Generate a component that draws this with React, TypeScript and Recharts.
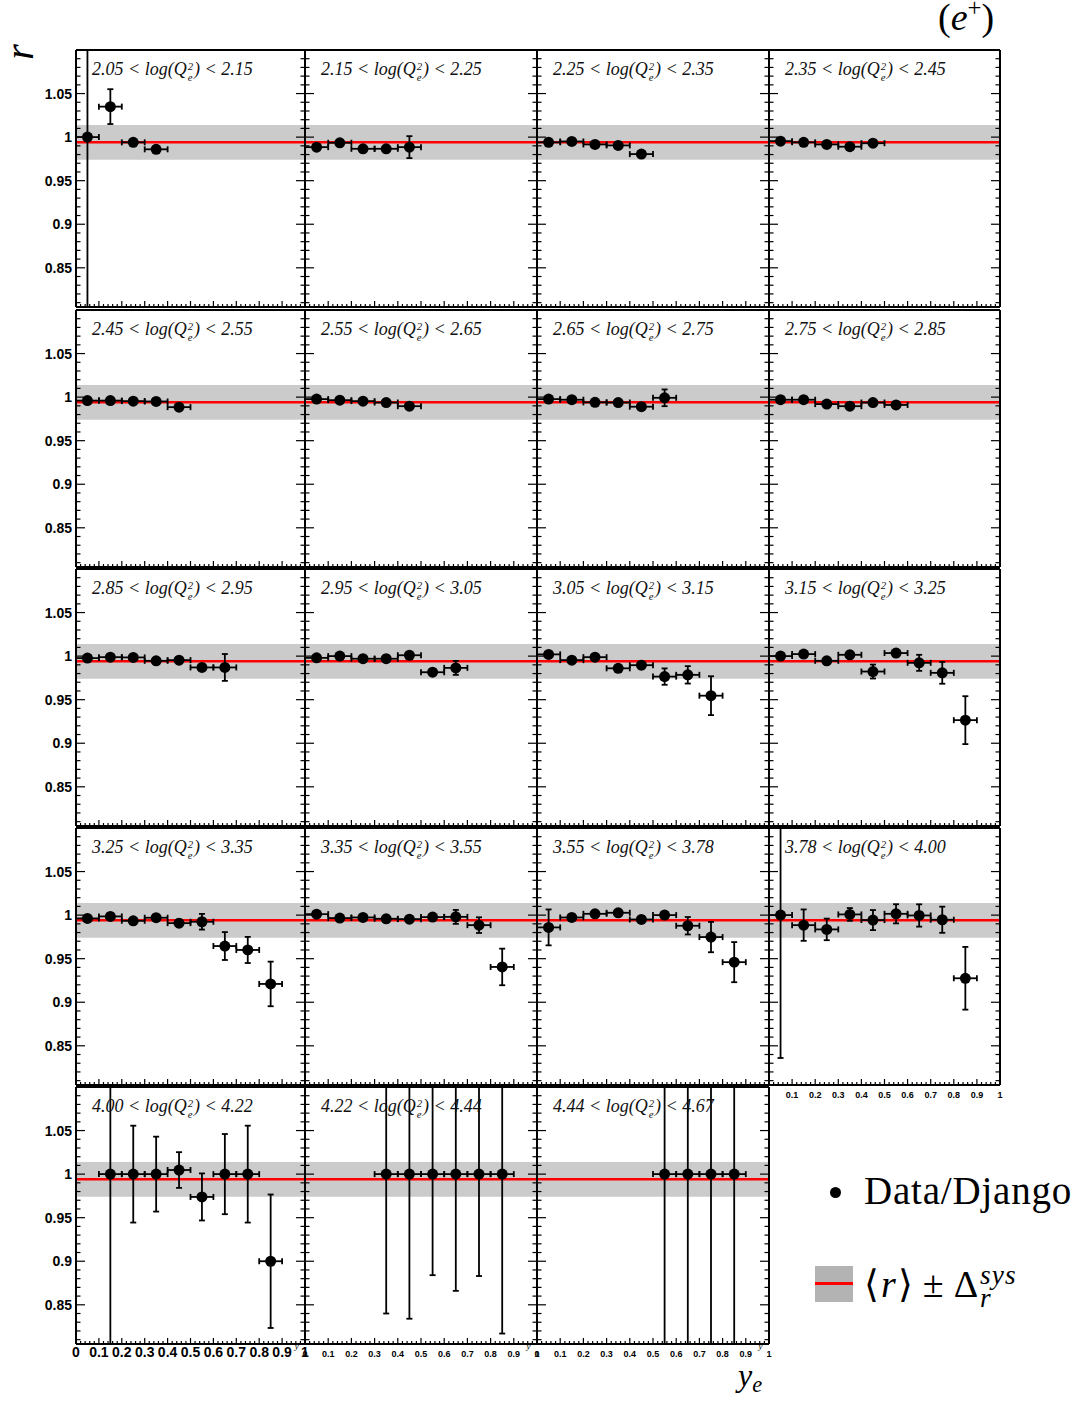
import React from "react";
import {
  ComposedChart,
  ErrorBar,
  ReferenceArea,
  ReferenceLine,
  Scatter,
  XAxis,
  YAxis,
} from "recharts";

// bin centres in y_e and the half width of a bin
const yeBins = [0.05, 0.15, 0.25, 0.35, 0.45, 0.55, 0.65, 0.75, 0.85, 0.95];
const yeHalfWidth = 0.05;

// log(Q_e^2) bin edges, one panel per bin
const q2Edges = [
  "2.05", "2.15", "2.25", "2.35", "2.45", "2.55", "2.65", "2.75", "2.85", "2.95",
  "3.05", "3.15", "3.25", "3.35", "3.55", "3.78", "4.00", "4.22", "4.44", "4.67",
];

// index of the first filled y_e bin in every panel
const firstBin = [0, 0, 0, 0, 0, 0, 0, 0, 0, 0, 0, 0, 0, 0, 0, 0, 1, 3, 5];

// ratio data / django and its error, per log(Q^2) bin
const r205 = [1.0, 1.035, 0.994, 0.986];
const e205 = [0.3, 0.02, 0.003, 0.003];
const r215 = [0.9885, 0.9935, 0.9866, 0.9866, 0.9885];
const e215 = [0.003, 0.003, 0.003, 0.003, 0.0126];
const r225 = [0.994, 0.995, 0.9916, 0.9905, 0.9805];
const e225 = [0.003, 0.003, 0.003, 0.003, 0.003];
const r235 = [0.9954, 0.994, 0.9916, 0.989, 0.993];
const e235 = [0.003, 0.003, 0.003, 0.003, 0.003];
const r245 = [0.996, 0.996, 0.9954, 0.995, 0.9885];
const e245 = [0.003, 0.003, 0.003, 0.003, 0.003];
const r255 = [0.9977, 0.9965, 0.9954, 0.9938, 0.9896];
const e255 = [0.003, 0.003, 0.003, 0.003, 0.003];
const r265 = [0.9977, 0.997, 0.994, 0.9938, 0.989, 0.9992];
const e265 = [0.003, 0.003, 0.003, 0.003, 0.003, 0.0096];
const r275 = [0.997, 0.997, 0.992, 0.9896, 0.9938, 0.991];
const e275 = [0.003, 0.003, 0.003, 0.003, 0.003, 0.003];
const r285 = [0.9977, 0.9988, 0.9985, 0.9946, 0.9954, 0.987, 0.987];
const e285 = [0.003, 0.003, 0.003, 0.003, 0.003, 0.003, 0.0154];
const r295 = [0.998, 1.0, 0.997, 0.997, 1.001, 0.9815, 0.9865];
const e295 = [0.003, 0.003, 0.003, 0.003, 0.003, 0.003, 0.008];
const r305 = [1.002, 0.9954, 0.9988, 0.986, 0.9896, 0.9765, 0.9785, 0.9546];
const e305 = [0.003, 0.003, 0.003, 0.003, 0.004, 0.0094, 0.01, 0.0223];
const r315 = [1.0, 1.0023, 0.9946, 1.0015, 0.9823, 1.0035, 0.9923, 0.9808, 0.9265];
const e315 = [0.003, 0.003, 0.003, 0.004, 0.008, 0.004, 0.0092, 0.0125, 0.0275];
const r325 = [0.9962, 0.9985, 0.9935, 0.997, 0.9908, 0.9924, 0.9645, 0.96, 0.921];
const e325 = [0.003, 0.003, 0.003, 0.003, 0.004, 0.009, 0.016, 0.015, 0.0256];
const r335 = [1.0011, 0.9966, 0.9973, 0.9958, 0.9954, 0.9977, 0.998, 0.9885, 0.9405];
const e335 = [0.003, 0.003, 0.003, 0.003, 0.003, 0.004, 0.008, 0.009, 0.021];
const r355 = [0.9859, 0.9973, 1.0015, 1.0027, 0.995, 1.0, 0.9878, 0.9748, 0.946];
const e355 = [0.0206, 0.004, 0.003, 0.003, 0.004, 0.004, 0.01, 0.0174, 0.023];
const r378 = [1.0, 0.9885, 0.9836, 1.0008, 0.9943, 1.0015, 0.9996, 0.9947, 0.9275];
const e378 = [0.164, 0.018, 0.0124, 0.0073, 0.0115, 0.011, 0.0128, 0.015, 0.036];
const r400 = [1.0, 1.0, 1.0, 1.0047, 0.9738, 1.0, 1.0, 0.9];
const e400 = [0.3, 0.0556, 0.043, 0.0205, 0.027, 0.046, 0.0556, 0.0766];
const r422 = [1.0, 1.0, 1.0, 1.0, 1.0, 1.0];
const e422 = [0.16, 0.166, 0.116, 0.134, 0.117, 0.183];
const r444 = [1.0, 1.0, 1.0, 1.0];
const e444 = [0.3, 0.3, 0.3, 0.3];

const ratios = [r205, r215, r225, r235, r245, r255, r265, r275, r285, r295, r305, r315, r325, r335, r355, r378, r400, r422, r444];
const errors = [e205, e215, e225, e235, e245, e255, e265, e275, e285, e295, e305, e315, e325, e335, e355, e378, e400, e422, e444];

// mean ratio and its systematic band
const meanRatio = 0.994;
const sysBand = 0.02;

const xMajorTicks = [0, 0.1, 0.2, 0.3, 0.4, 0.5, 0.6, 0.7, 0.8, 0.9, 1];
const xTickLabels = ["0", "0.1", "0.2", "0.3", "0.4", "0.5", "0.6", "0.7", "0.8", "0.9", "1"];
const yMajorTicks = [0.85, 0.9, 0.95, 1, 1.05];
const yTickLabels = ["0.85", "0.9", "0.95", "1", "1.05"];

const xAllTicks = Array.from({ length: 51 }, (_, i) => i * 0.02);
const yAllTicks = Array.from({ length: 30 }, (_, i) => 0.81 + i * 0.01);

const COL_LEFT = [76, 305, 537, 769];
const COL_WIDTH = [229, 232, 232, 231];
const ROW_TOP = [50, 310, 569, 828, 1087];
const PANEL_H = 257;
const Y_DOMAIN: [number, number] = [0.805, 1.1];

const SANS = '"Liberation Sans", Arial, sans-serif';
const SERIF = '"Liberation Serif", "Times New Roman", serif';

// error bars are cut at the frame, as in the original plot
const panels = q2Edges.slice(0, -1).map((lo, i) => ({
  lo,
  hi: q2Edges[i + 1],
  points: ratios[i].map((r, k) => {
    const dr = errors[i][k];
    return {
      ye: yeBins[firstBin[i] + k],
      r,
      drClip: [Math.min(dr, r - Y_DOMAIN[0]), Math.min(dr, Y_DOMAIN[1] - r)],
      dye: yeHalfWidth,
    };
  }),
}));

function majorIndex(v: number, majors: number[]) {
  return majors.findIndex((m) => Math.abs(m - v) < 1e-6);
}

function xTick(side: "bottom" | "top", labelSize: number, skipZero = false) {
  return (p: any) => {
    const idx = majorIndex(p.payload.value, xMajorTicks);
    const len = idx >= 0 ? 6 : 3;
    const dir = side === "bottom" ? -1 : 1;
    return (
      <g>
        <line x1={p.x} x2={p.x} y1={p.y} y2={p.y + dir * len} stroke="#000" strokeWidth={1.2} />
        {side === "bottom" && labelSize > 0 && idx >= 0 && !(skipZero && idx === 0) && (
          <text
            x={p.x}
            y={p.y + 13}
            textAnchor="middle"
            fontFamily={SANS}
            fontWeight="bold"
            fontSize={labelSize}
            fill="#000"
          >
            {xTickLabels[idx]}
          </text>
        )}
      </g>
    );
  };
}

function yTick(side: "left" | "right", showLabels: boolean) {
  return (p: any) => {
    const idx = majorIndex(p.payload.value, yMajorTicks);
    const len = idx >= 0 ? 9 : 4.5;
    const dir = side === "left" ? 1 : -1;
    return (
      <g>
        <line x1={p.x} x2={p.x + dir * len} y1={p.y} y2={p.y} stroke="#000" strokeWidth={1.2} />
        {showLabels && idx >= 0 && (
          <text
            x={p.x - 4}
            y={p.y + 5}
            textAnchor="end"
            fontFamily={SANS}
            fontWeight="bold"
            fontSize={14}
            fill="#000"
          >
            {yTickLabels[idx]}
          </text>
        )}
      </g>
    );
  };
}

function Panel({ index }: { index: number }) {
  const row = Math.floor(index / 4);
  const col = index % 4;
  const panel = panels[index];
  const hasXLabels = row === 4 || index === 15;
  const leftW = col === 0 ? 60 : 1;
  const bottomH = hasXLabels ? 22 : 1;
  const topH = 1;
  const rightW = 1;
  const m = { top: 3, right: 6, bottom: 4, left: 3 };
  const width = m.left + leftW + COL_WIDTH[col] + rightW + m.right;
  const height = m.top + topH + PANEL_H + bottomH + m.bottom;
  const labelSize = hasXLabels ? (col === 0 ? 14 : 9) : 0;
  const axisLine = { stroke: "#000", strokeWidth: 2 };

  return (
    <div
      style={{
        position: "absolute",
        left: COL_LEFT[col] - leftW - m.left,
        top: ROW_TOP[row] - topH - m.top,
      }}
    >
      <ComposedChart width={width} height={height} margin={m}>
        <XAxis
          xAxisId="b"
          dataKey="ye"
          type="number"
          domain={[0, 1]}
          allowDataOverflow
          ticks={xAllTicks}
          interval={0}
          height={bottomH}
          tickSize={0}
          tickMargin={0}
          tickLine={false}
          axisLine={axisLine}
          tick={xTick("bottom", labelSize, index === 15)}
        />
        <XAxis
          xAxisId="t"
          orientation="top"
          type="number"
          domain={[0, 1]}
          allowDataOverflow
          ticks={xAllTicks}
          interval={0}
          height={topH}
          tickSize={0}
          tickMargin={0}
          tickLine={false}
          axisLine={axisLine}
          tick={xTick("top", 0)}
        />
        <YAxis
          yAxisId="l"
          dataKey="r"
          type="number"
          domain={Y_DOMAIN}
          allowDataOverflow
          ticks={yAllTicks}
          interval={0}
          width={leftW}
          tickSize={0}
          tickMargin={0}
          tickLine={false}
          axisLine={axisLine}
          tick={yTick("left", col === 0)}
        />
        <YAxis
          yAxisId="r"
          orientation="right"
          type="number"
          domain={Y_DOMAIN}
          allowDataOverflow
          ticks={yAllTicks}
          interval={0}
          width={rightW}
          tickSize={0}
          tickMargin={0}
          tickLine={false}
          axisLine={axisLine}
          tick={yTick("right", false)}
        />
        <ReferenceArea
          xAxisId="b"
          yAxisId="l"
          y1={meanRatio - sysBand}
          y2={meanRatio + sysBand}
          fill="#cbcbcb"
          fillOpacity={1}
          stroke="none"
        />
        <ReferenceLine xAxisId="b" yAxisId="l" y={meanRatio} stroke="#ff0000" strokeWidth={2.5} />
        <Scatter
          xAxisId="b"
          yAxisId="l"
          data={panel.points}
          isAnimationActive={false}
          shape={(p: any) => <circle cx={p.cx} cy={p.cy} r={5.5} fill="#000" />}
        >
          <ErrorBar dataKey="drClip" direction="y" width={3} stroke="#000" strokeWidth={1.8} isAnimationActive={false} />
          <ErrorBar dataKey="dye" direction="x" width={3} stroke="#000" strokeWidth={1.8} isAnimationActive={false} />
        </Scatter>
      </ComposedChart>
    </div>
  );
}

function PanelLabel({ index }: { index: number }) {
  const row = Math.floor(index / 4);
  const col = index % 4;
  const p = panels[index];
  return (
    <div
      style={{
        position: "absolute",
        left: COL_LEFT[col] + 16,
        top: ROW_TOP[row] + 10,
        fontFamily: SERIF,
        fontStyle: "italic",
        fontSize: 18,
        lineHeight: "18px",
        color: "#111",
        whiteSpace: "nowrap",
      }}
    >
      {p.lo} &lt; log(Q
      <span
        style={{
          display: "inline-flex",
          flexDirection: "column",
          fontSize: "0.6em",
          lineHeight: 1,
          verticalAlign: "5px",
          margin: "0 1px",
        }}
      >
        <span>2</span>
        <span>e</span>
      </span>
      ) &lt; {p.hi}
    </div>
  );
}

export default function App() {
  return (
    <div
      style={{
        position: "absolute",
        left: 0,
        top: 0,
        width: 1079,
        height: 1402,
        background: "#fff",
        overflow: "hidden",
      }}
    >
      {panels.map((_, i) => (
        <Panel key={i} index={i} />
      ))}
      {panels.map((_, i) => (
        <PanelLabel key={i} index={i} />
      ))}

      {/* small y axis titles at the end of the bottom axes */}
      {[0, 1, 2].map((c) => (
        <div
          key={c}
          style={{
            position: "absolute",
            left: COL_LEFT[c] + COL_WIDTH[c] * 0.955,
            top: 1342,
            fontFamily: SERIF,
            fontStyle: "italic",
            fontSize: 9,
            lineHeight: "8px",
          }}
        >
          y
        </div>
      ))}

      {/* y title */}
      <div
        style={{
          position: "absolute",
          left: 0,
          top: 32,
          width: 40,
          height: 40,
          display: "flex",
          alignItems: "center",
          justifyContent: "center",
          fontFamily: SERIF,
          fontStyle: "italic",
          fontSize: 40,
          lineHeight: "40px",
          transform: "rotate(-90deg)",
        }}
      >
        r
      </div>

      {/* beam label */}
      <div
        style={{
          position: "absolute",
          left: 938,
          top: 2,
          fontFamily: SERIF,
          fontSize: 38,
          lineHeight: "30px",
          whiteSpace: "nowrap",
        }}
      >
        (<i>e</i>
        <sup style={{ fontSize: "0.65em", verticalAlign: "0.55em", lineHeight: 0 }}>+</sup>)
      </div>

      {/* x title */}
      <div
        style={{
          position: "absolute",
          left: 738,
          top: 1363,
          fontFamily: SERIF,
          fontStyle: "italic",
          fontSize: 32,
          lineHeight: "24px",
          whiteSpace: "nowrap",
        }}
      >
        y<sub style={{ fontSize: "0.7em", verticalAlign: "-0.25em", lineHeight: 0 }}>e</sub>
      </div>

      {/* legend */}
      <div
        style={{
          position: "absolute",
          left: 830,
          top: 1187,
          width: 11,
          height: 11,
          borderRadius: "50%",
          background: "#000",
        }}
      />
      <div
        style={{
          position: "absolute",
          left: 864,
          top: 1172,
          fontFamily: SERIF,
          fontSize: 39,
          letterSpacing: 0.8,
          lineHeight: "38px",
          whiteSpace: "nowrap",
        }}
      >
        Data/Django
      </div>
      <div
        style={{
          position: "absolute",
          left: 815,
          top: 1266,
          width: 38,
          height: 36,
          background: "#b3b3b3",
        }}
      >
        <div style={{ position: "absolute", left: 0, top: 16, width: 38, height: 3, background: "#ff0000" }} />
      </div>
      <div
        style={{
          position: "absolute",
          left: 864,
          top: 1264,
          fontFamily: SERIF,
          fontSize: 38,
          lineHeight: "36px",
          whiteSpace: "nowrap",
        }}
      >
        ⟨<i style={{ margin: "0 2px" }}>r</i>⟩<span style={{ margin: "0 10px" }}>±</span>Δ
        <span
          style={{
            display: "inline-flex",
            flexDirection: "column",
            fontSize: "0.72em",
            fontStyle: "italic",
            lineHeight: 0.85,
            verticalAlign: "13px",
            marginLeft: 2,
            letterSpacing: 1,
          }}
        >
          <span>sys</span>
          <span>r</span>
        </span>
      </div>
    </div>
  );
}
